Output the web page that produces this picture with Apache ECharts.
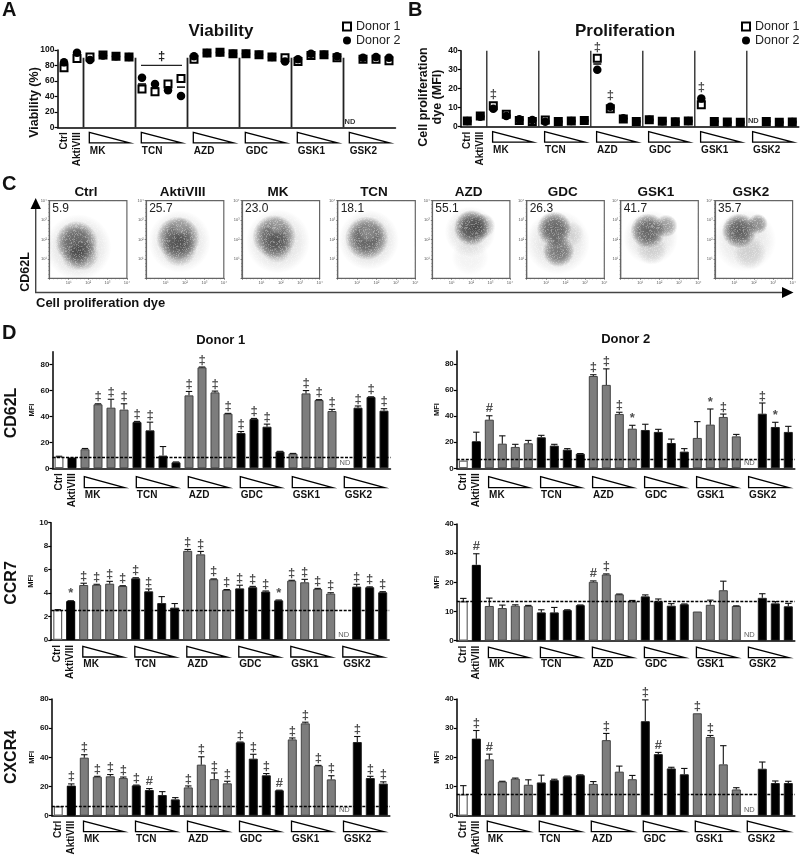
<!DOCTYPE html>
<html>
<head>
<meta charset="utf-8">
<script src="https://cdn.jsdelivr.net/npm/echarts@6/dist/echarts.min.js"></script>
<style>html,body{margin:0;padding:0;background:#fff}#c{width:800px;height:859px}</style>
</head>
<body>
<div id="c"></div>
<script>
var FONT = '"Liberation Sans", Arial, sans-serif';

// ---------- categories ----------
var categories = ['Ctrl','AktiVIII',
  'MK a','MK b','MK c','MK d','TCN a','TCN b','TCN c','TCN d','AZD a','AZD b','AZD c','AZD d',
  'GDC a','GDC b','GDC c','GDC d','GSK1 a','GSK1 b','GSK1 c','GSK1 d','GSK2 a','GSK2 b','GSK2 c','GSK2 d'];
var groupNames  = ['MK','TCN','AZD','GDC','GSK1','GSK2'];
var groupStarts = [2,6,10,14,18,22];
var separators  = [1,5,9,13,17,21];

// ---------- panel A: viability ----------
var viabilityDonor1 = [77,89, 91,93.5,92,91, 49.5,46,56,63, 88,96,97,95, 95,94,91,90, 85,93,94,90, null,88,88,86];
var viabilityDonor2 = [84,96.5, 87,93,92,91, 64,56,48,40.5, 92,96,97,95, 95,94,91,85, 88,95,94,92, null,90,91,90];
var viabilityMean   = [80,93, 89,93,92,91, 56,51,52,52, 90,96,97,95, 95,94,91,88, 86,94,94,91, null,89,89,88];

// ---------- panel B: proliferation ----------
var prolifDonor1 = [3,5.6, 11,6.5,3.2,2.8, 3.5,2.8,3,3.2, 36,9.5,4,2.8, 3.6,2.9,2.6,3, 11.6,2.8,2.5,2.3, null,2.8,2.4,2.5];
var prolifDonor2 = [3,5.3, 9.5,5.6,3.9,3.5, 2.6,2.6,3,3.2, 30,10.5,4.5,2.7, 3.6,2.9,2.6,3, 14.8,2.8,2.3,2.4, null,2.8,2.4,2.5];
var prolifMean   = [3,5.4, 10.5,6,3.5,3.1, 3,2.7,3,3.2, 33,10,4.2,2.7, 3.6,2.9,2.6,3, 13.2,2.8,2.4,2.4, null,2.8,2.4,2.5];
var prolifSig    = ['','', '‡','','','', '','','','', '‡','‡','','', '','','','', '‡','','','', 'ND','','',''];

// ---------- panel C: flow plots, density read as blobs [x, y, spreadX, spreadY, density] in log decades ----------
var flowNames   = ['Ctrl','AktiVIII','MK','TCN','AZD','GDC','GSK1','GSK2'];
var flowPercent = ['5.9','25.7','23.0','18.1','55.1','26.3','41.7','35.7'];
var flowCtrl = [[1.5,1.6,1.7,1.9,.16],[1.4,1.85,1.1,1.55,.68],[1.75,1.2,.85,.8,.35],[1.35,1.1,1,.7,.3]];
var flowAkti = [[1.72,1.9,1.6,1.75,.15],[1.64,2.07,1.12,1.4,.68],[1.7,1.5,.9,.9,.35],[1.78,2.67,.45,.5,-.75]];
var flowMK   = [[1.85,1.9,1.65,1.8,.15],[1.66,2.15,1.12,1.35,.68],[1.8,1.6,.85,.8,.3],[1.79,2.72,.45,.48,-.75]];
var flowTCN  = [[1.6,1.98,1.6,1.55,.16],[1.5,2.07,1.12,1.3,.7],[1.55,2.33,.5,.6,-.6]];
var flowAZD  = [[1.95,2.4,1.65,1.3,.15],[2.03,2.6,1.35,.92,.78],[2.6,2.7,.7,.65,.3],[1.95,1.1,1.45,.95,.06]];
var flowGDC  = [[1.6,1.85,1.65,1.8,.15],[1.42,2.55,1.2,.9,.68],[1.64,1.4,.82,1,.58],[2.3,2.3,.65,.75,.1]];
var flowGSK1 = [[1.55,2.1,1.65,1.4,.13],[1.4,2.45,1.25,.9,.68],[2.35,2.7,.85,.58,.42],[1.6,1.5,1.15,.8,.13]];
var flowGSK2 = [[1.55,1.95,1.6,1.65,.12],[1.25,2.45,1.15,.9,.72],[2.2,2.8,.65,.52,.48],[1.8,1.3,1.05,.85,.13]];
var flowBlobs = [flowCtrl,flowAkti,flowMK,flowTCN,flowAZD,flowGDC,flowGSK1,flowGSK2];
var flowTickLabels = ['','10¹','10²','10³','10⁴'];

// ---------- panel D: MFI bars, means and error bars ----------
var cd62lD1 = [9,8.3, 14.7,49.4,46.8,45.3, 35.7,29.3,9.8,4.6, 56.3,77.9,58.6,42.2, 27.2,38,32.1,12.9, 11.3,57.8,52.7,44.2, null,46.8,55,44.5];
var cd62lD1Err = [.3,0, .6,.4,6.5,4.5, .5,6.3,7,.3, 3,.3,1,.2, 1.2,.5,2,.2, .2,2.2,.3,1.3, 0,1.3,.2,1.5];
var cd62lD1Sig = ['','', '','‡','‡','‡', '‡','‡','','', '‡','‡','‡','‡', '‡','‡','‡','', '','‡','‡','‡', 'ND','‡','‡','‡'];
var cd62lD2 = [5.9,20.7, 37.3,18.9,16.4,19.2, 23.8,17.4,14.3,11.2, 70.8,64,41.7,30.4, 29.4,27.9,19.4,12.8, 23.3,33.5,39.4,24.5, null,41.9,31.7,27.9];
var cd62lD2Err = [0,7, 3,6,2,2.2, 1.5,1,.8,.1, 1,12.3,1.3,2.6, 4.4,2,3,2.3, 12.5,12,2.2,1.5, 0,8.2,3.6,4.3];
var cd62lD2Sig = ['','', '#','','','', '','','','', '‡','‡','‡','*', '','','','', '','*','‡','', 'ND','‡','*',''];
var ccr7D1 = [2.56,3.32, 4.69,4.7,4.8,4.6, 5.26,4.15,3.15,2.76, 7.6,7.3,5.18,4.27, 4.4,4.5,4.13,3.38, 5.06,4.92,4.35,3.96, null,4.55,4.5,4.07];
var ccr7D1Err = [.03,.03, .15,.05,.2,.03, .05,.2,.55,.35, .12,.25,.03,.03, .27,.07,.05,.03, .03,.25,.05,.07, 0,.2,.03,.05];
var ccr7D1Sig = ['','*', '‡','‡','‡','‡', '‡','‡','','', '‡','‡','‡','‡', '‡','‡','‡','*', '‡','‡','‡','‡', 'ND','‡','‡','‡'];
var ccr7D2 = [13.5,26, 11.9,11.2,12,11.9, 9.7,9.7,10.5,12.2, 20.2,22.7,15.9,13.5, 15.2,13.5,12,12.5, 10,12.3,17.3,11.9, null,14.7,12.8,11.8];
var ccr7D2Err = [1,3.8, 2.7,1,.3,.2, .9,1.7,.1,.05, .3,.2,.1,.3, .5,.8,.7,.1, 0,1.6,3.1,.05, 0,1.4,.6,1];
var ccr7D2Sig = ['','#', '','','','', '','','','', '#','‡','','', '','','','', '','','','', 'ND','','',''];
var cxcr4D1 = [6.4,20.6, 39.8,26.7,27,25.8, 20.8,17.6,14.2,11.2, 19.4,35,25.1,22.2, 50.3,39.1,27.7,17.4, 52.3,63.3,34.3,24.9, null,50.5,25.8,22];
var cxcr4D1Err = [0,1.2, 2,.3,1.2,.7, .2,1,2.3,1.2, 1,5.4,4.2,1.4, .2,3,1.2,.1, 1,.8,.2,2.5, 0,3.8,1.2,1.2];
var cxcr4D1Sig = ['','‡', '‡','‡','‡','‡', '‡','#','','', '‡','‡','‡','‡', '‡','‡','‡','#', '‡','‡','‡','‡', 'ND','‡','‡','‡'];
var cxcr4D2 = [7.3,26.4, 19.3,11.7,12.7,10.6, 11.4,12.2,13.5,13.9, 10.9,25.9,15.1,12.5, 32.4,21.1,16.2,14.2, 35.1,27,17.6,9, null,16.1,11.2,11.2];
var cxcr4D2Err = [3,2.8, 1.8,.1,.2,1.7, 2.5,.3,.1,.1, .8,2.3,1.9,1.3, 7.3,.6,.4,2, 0,.5,6.4,.6, 0,2.3,.7,.6];
var cxcr4D2Sig = ['','‡', '#','','','', '','','','', '','‡','','', '‡','#','','', '‡','‡','','', 'ND','','',''];
var dashedRefs = {cd62lD1:8.6, cd62lD2:7.1, ccr7D1:2.5, ccr7D2:13.5, cxcr4D1:6.6, cxcr4D2:7.2};
var yTicks80 = [0,20,40,60,80];

// ---------- builders ----------
var grids=[], xAxes=[], yAxes=[], series=[], graphics=[];
var BLACK='#111';

function txt(t,x,y,size,opt){
  opt=opt||{};
  graphics.push({type:'text',x:x,y:y,rotation:opt.rot?Math.PI/2:0,silent:true,z:50,
    style:{text:t,fill:opt.fill||BLACK,font:(opt.weight||'bold')+' '+size+'px '+FONT,
      align:opt.align||'center',verticalAlign:'middle',textAlign:opt.align||'center',textVerticalAlign:'middle'}});
}

function catPanel(left,top,height,max,interval,ticks,fontSize){
  var idx=grids.length;
  grids.push({left:left,top:top,width:338,height:height});
  xAxes.push({gridIndex:idx,type:'category',data:categories,
    axisLine:{lineStyle:{color:'#000',width:1.5}},
    axisTick:{alignWithLabel:true,interval:0,length:3,lineStyle:{color:'#000',width:1.2}},
    axisLabel:{interval:0,rotate:90,margin:5,fontFamily:FONT,fontWeight:'bold',fontSize:10,color:BLACK,
      formatter:function(v,i){return i<2?v:'';}}});
  var y={gridIndex:idx,type:'value',min:0,max:max,interval:interval,splitLine:{show:false},
    axisLine:{show:true,lineStyle:{color:'#000',width:1.5}},
    axisTick:{show:true,length:3,lineStyle:{color:'#000',width:1.2}},
    axisLabel:{margin:3,fontFamily:FONT,fontWeight:'bold',fontSize:fontSize,color:BLACK}};
  if(ticks){y.axisTick.customValues=ticks;y.axisLabel.customValues=ticks;}
  yAxes.push(y);
  return idx;
}

function wedges(idx,dyTop,dyBot,dyLabel,dx){
  series.push({type:'custom',xAxisIndex:idx,yAxisIndex:idx,silent:true,clip:false,z:5,
    data:groupStarts.map(function(s){return [s,0];}),
    renderItem:function(p,api){
      var s=api.value(0), a=api.coord([s,0]), b=api.coord([s+3,0]);
      var x0=a[0]-dx, x1=b[0]+.5, y0=a[1];
      return {type:'group',children:[
        {type:'polygon',shape:{points:[[x0,y0+dyTop],[x0,y0+dyBot],[x1,y0+dyBot]]},style:{fill:'#fff',stroke:'#000',lineWidth:1.3}},
        {type:'text',x:x0+.5,y:y0+dyLabel,style:{text:groupNames[p.dataIndex],fill:BLACK,font:'bold 10px '+FONT,align:'left',verticalAlign:'middle'}}
      ]};
    }});
}

function sigSeries(idx,rows,dist){
  series.push({type:'scatter',xAxisIndex:idx,yAxisIndex:idx,silent:true,z:6,symbolSize:1,
    itemStyle:{color:'rgba(0,0,0,0)'},
    data:rows.map(function(r){
      var nd=r[2]==='ND';
      return {value:r,label:nd?{distance:1,fontSize:7.5,fontWeight:r[3]?'bold':'normal',color:r[3]?'#000':'#333'}:{}};
    }),
    label:{show:true,position:'top',distance:dist,fontFamily:FONT,fontSize:13,fontWeight:'bold',color:'#222',
      formatter:function(p){return p.value[2];}}});
}

function barPanel(name,vals,errs,sigs,left,top,height,max,interval,ticks,wd){
  var idx=catPanel(left,top,height,max,interval,ticks,8);
  yAxes[idx].name='MFI';
  yAxes[idx].nameLocation='middle';
  yAxes[idx].nameGap=wd.nameGap;
  yAxes[idx].nameTextStyle={fontFamily:FONT,fontWeight:'bold',fontSize:7.5,color:BLACK};
  var bars=vals.map(function(v,i){
    var st;
    if(i===0) st={color:'#fff',borderColor:'#666',borderWidth:1.2};
    else if(i===1) st={color:'#000',borderColor:'#000',borderWidth:1};
    else {
      var g=Math.floor((i-2)/4);
      st=(g%2===0)?{color:'#7d7d7d',borderColor:'#444',borderWidth:1}:{color:'#000',borderColor:'#222',borderWidth:1};
    }
    return {value:v,itemStyle:st};
  });
  series.push({name:name,type:'bar',xAxisIndex:idx,yAxisIndex:idx,barWidth:9,silent:true,data:bars,z:2,
    markLine:{silent:true,symbol:'none',label:{show:false},animation:false,z:4,
      lineStyle:{color:'#000',type:[3,1.5],width:1.3},data:[{yAxis:dashedRefs[name]}]}});
  series.push({type:'custom',xAxisIndex:idx,yAxisIndex:idx,silent:true,z:3,clip:false,
    data:vals.map(function(v,i){return [i,v==null?0:v,errs[i]];}),
    renderItem:function(p,api){
      var e=api.value(2); if(!e) return null;
      var a=api.coord([api.value(0),api.value(1)]), b=api.coord([api.value(0),api.value(1)+e]);
      var st={stroke:'#111',lineWidth:1.1};
      return {type:'group',children:[
        {type:'line',shape:{x1:a[0],y1:a[1],x2:b[0],y2:b[1]},style:st},
        {type:'line',shape:{x1:b[0]-3.2,y1:b[1],x2:b[0]+3.2,y2:b[1]},style:st}]};
    }});
  var rows=[];
  sigs.forEach(function(s,i){ if(s) rows.push([i,(vals[i]==null?0:vals[i]+errs[i]),s]); });
  sigSeries(idx,rows,0);
  wedges(idx,wd.top,wd.bot,wd.label,wd.dx);
}

function dotPanel(d1,d2,mean,left,top,height,max,interval,sepTop,sepWidth){
  var idx=catPanel(left,top,height,max,interval,null,8.5);
  series.push({type:'custom',xAxisIndex:idx,yAxisIndex:idx,silent:true,z:1,clip:false,
    data:separators.map(function(s){return [s,sepTop];}),
    renderItem:function(p,api){
      var a=api.coord([api.value(0),0]), b=api.coord([api.value(0),api.value(1)]), h=api.size([1,0])[0]/2;
      return {type:'line',shape:{x1:a[0]+h,y1:a[1],x2:a[0]+h,y2:b[1]},style:{stroke:'#222',lineWidth:sepWidth}};
    }});
  var base={type:'scatter',xAxisIndex:idx,yAxisIndex:idx,silent:true,clip:false};
  series.push(Object.assign({},base,{name:'Donor 1',symbol:'rect',symbolSize:7,z:3,
    itemStyle:{color:'#fff',borderColor:'#000',borderWidth:2,opacity:1},data:d1}));
  series.push(Object.assign({},base,{name:'Mean',symbol:'rect',symbolSize:[8,1.5],z:3,
    itemStyle:{color:'#000',opacity:1},data:mean}));
  series.push(Object.assign({},base,{name:'Donor 2',symbol:'circle',symbolSize:8.5,z:3,
    itemStyle:{color:'#000',opacity:1},data:d2}));
  wedges(idx,5,15.5,23.5,.7);
  return idx;
}

// ---- A ----
var iA=dotPanel(viabilityDonor1,viabilityDonor2,viabilityMean,57.5,50,77.3,100,20,90,1.8);
sigSeries(iA,[[22,0,'ND',true]],1);
series.push({type:'custom',xAxisIndex:iA,yAxisIndex:iA,silent:true,z:4,clip:false,data:[[6,80]],
  renderItem:function(p,api){
    var a=api.coord([6,api.value(1)]), b=api.coord([9,api.value(1)]);
    return {type:'group',children:[
      {type:'line',shape:{x1:a[0]-1,y1:a[1],x2:b[0]+1,y2:b[1]},style:{stroke:'#222',lineWidth:1.3}},
      {type:'text',x:(a[0]+b[0])/2,y:a[1]-9.5,style:{text:'‡',fill:'#222',font:'bold 13px '+FONT,align:'center',verticalAlign:'middle'}}]};
  }});
// ---- B ----
var iB=dotPanel(prolifDonor1,prolifDonor2,prolifMean,460.8,50.7,76,40,10,40,1.3);
var bRows=[];
prolifSig.forEach(function(s,i){ if(s==='ND') bRows.push([i,0,s,true]); else if(s) bRows.push([i,Math.max(prolifDonor1[i],prolifDonor2[i]),s]); });
sigSeries(iB,bRows,4);

// ---- C ----
var flowLefts=[49.3,146.2,242,337.7,432.3,526.7,620.7,715];
var flowTop=200.7, flowH=77.6, flowW=77.6;
// a fixed grain tile: texture only, white specks that show inside the density clouds and carry no data
var grain=document.createElement('canvas'); grain.width=64; grain.height=64;
(function(){
  var g=grain.getContext('2d'), s=20240;
  for(var y=0;y<64;y++) for(var x=0;x<64;x++){
    s=(s*1103515245+12345)&0x7fffffff;
    var h=(s>>>16)%100;
    if(h<32){ g.fillStyle='rgba(255,255,255,'+(h<10?.32:.16)+')'; g.fillRect(x,y,1,1); }
  }
})();
flowNames.forEach(function(n,k){
  var idx=grids.length, left=flowLefts[k];
  grids.push({left:left,top:flowTop,width:flowW,height:flowH,show:true,borderColor:'#666',borderWidth:1.2,backgroundColor:'#fff'});
  function ax(){
    return {gridIndex:idx,type:'value',min:0,max:4,interval:1,splitNumber:4,splitLine:{show:false},
      axisLine:{show:true,lineStyle:{color:'#666',width:1.2}},
      axisTick:{show:true,length:1.5,lineStyle:{color:'#555',width:.7}},
      minorTick:{show:true,splitNumber:5,length:1,lineStyle:{color:'#666',width:.5}},
      axisLabel:{margin:2.5,fontFamily:FONT,fontSize:4,color:'#555',formatter:function(v){return flowTickLabels[Math.round(v)];},
        showMinLabel:false}};
  }
  xAxes.push(ax()); yAxes.push(ax());
  series.push({type:'custom',xAxisIndex:idx,yAxisIndex:idx,silent:true,clip:true,z:1,data:flowBlobs[k],
    renderItem:function(p,api){
      var c=api.coord([api.value(0),api.value(1)]), s=api.size([api.value(2),api.value(3)],[api.value(0),api.value(1)]), d=api.value(4);
      var rgb=d<0?'160,160,160':'40,40,40', a=Math.abs(d);
      return {type:'ellipse',shape:{cx:c[0],cy:c[1],rx:s[0],ry:s[1]},
        style:{fill:{type:'radial',x:.5,y:.5,r:.5,colorStops:[
          {offset:0,color:'rgba('+rgb+','+a+')'},
          {offset:.5,color:'rgba('+rgb+','+(a*.86)+')'},
          {offset:.75,color:'rgba('+rgb+','+(a*.5)+')'},
          {offset:1,color:'rgba('+rgb+',0)'}]}}};
    }});
  graphics.push({type:'rect',silent:true,z:40,shape:{x:left+1,y:flowTop+1,width:flowW-2,height:flowH-2},style:{fill:{image:grain,repeat:'repeat'}}});
  txt(flowPercent[k],left+3,flowTop+7.5,12,{weight:'normal',align:'left',fill:'#222'});
});
var flowTitleX=[86,182.7,278,374,468.7,562.7,656,751];
flowNames.forEach(function(n,k){txt(n,flowTitleX[k],192.7,13.5);});

// ---- D ----
var wdA={top:8.4,bot:19.4,label:27,dx:.7,nameGap:16.5};
var wdB={top:6.3,bot:17,label:24,dx:.9,nameGap:15};
var wdC={top:5.3,bot:16,label:23.6,dx:.8,nameGap:15};
barPanel('cd62lD1',cd62lD1,cd62lD1Err,cd62lD1Sig,52.5,351.7,116.6,90,20,yTicks80,wdA);
barPanel('cd62lD2',cd62lD2,cd62lD2Err,cd62lD2Sig,456.8,351,117.3,90,20,yTicks80,Object.assign({},wdA,{nameGap:14.5}));
barPanel('ccr7D1',ccr7D1,ccr7D1Err,ccr7D1Sig,51.2,522.7,117.3,10,2,null,wdB);
barPanel('ccr7D2',ccr7D2,ccr7D2Err,ccr7D2Sig,456.8,524,116.7,40,10,null,Object.assign({},wdB,{nameGap:15.5}));
barPanel('cxcr4D1',cxcr4D1,cxcr4D1Err,cxcr4D1Sig,51.8,699,116.7,80,20,null,wdC);
barPanel('cxcr4D2',cxcr4D2,cxcr4D2Err,cxcr4D2Sig,456.8,699,116.7,40,10,null,Object.assign({},wdC,{dx:2}));

// ---- static text ----
txt('A',2,10,20,{align:'left'});
txt('B',408,10,20,{align:'left'});
txt('C',2,184,20,{align:'left'});
txt('D',2,333,20,{align:'left'});
txt('Viability (%)',35,102.5,12.5,{rot:1});
txt('Cell proliferation',423.5,97,12.5,{rot:1});
txt('dye (MFI)',438,97,12.5,{rot:1});
txt('CD62L',26,272,12.5,{rot:1});
txt('Cell proliferation dye',36,303,13,{align:'left'});
txt('CD62L',12,413,16,{rot:1});
txt('CCR7',12,583,16,{rot:1});
txt('CXCR4',12,757,16,{rot:1});

// arrows of panel C
graphics.push({type:'polyline',silent:true,shape:{points:[[35.7,208],[35.7,292.5],[783,292.5]]},style:{stroke:'#444',lineWidth:1.4,fill:null}});
graphics.push({type:'polygon',silent:true,shape:{points:[[35.7,198],[30.5,209],[40.9,209]]},style:{fill:'#000'}});
graphics.push({type:'polygon',silent:true,shape:{points:[[793.5,292.5],[782,287],[782,298]]},style:{fill:'#000'}});

var titleBase={textAlign:'center',textVerticalAlign:'middle',padding:0,textStyle:{fontFamily:FONT,fontWeight:'bold',color:BLACK,fontSize:17}};
function title(t,x,y,size){return Object.assign({},titleBase,{text:t,left:x,top:y,textStyle:Object.assign({},titleBase.textStyle,{fontSize:size})});}

var chart=echarts.init(document.getElementById('c'),null,{renderer:'canvas'});
chart.setOption({
  animation:false,
  backgroundColor:'#fff',
  textStyle:{fontFamily:FONT},
  title:[title('Viability',221,31,17),title('Proliferation',625,31,17),title('Donor 1',220.7,340.7,13),title('Donor 2',625.7,339.5,13)],
  legend:[
    {left:342,top:20,orient:'vertical',padding:0,itemGap:1,itemWidth:8,itemHeight:8,data:['Donor 1','Donor 2'],selectedMode:false,
      textStyle:{fontFamily:FONT,fontSize:12.5,color:'#222'}},
    {left:741,top:20,orient:'vertical',padding:0,itemGap:1,itemWidth:8,itemHeight:8,data:['Donor 1','Donor 2'],selectedMode:false,
      textStyle:{fontFamily:FONT,fontSize:12.5,color:'#222'}}
  ],
  grid:grids,xAxis:xAxes,yAxis:yAxes,series:series,graphic:{elements:graphics}
});
</script>
</body>
</html>
